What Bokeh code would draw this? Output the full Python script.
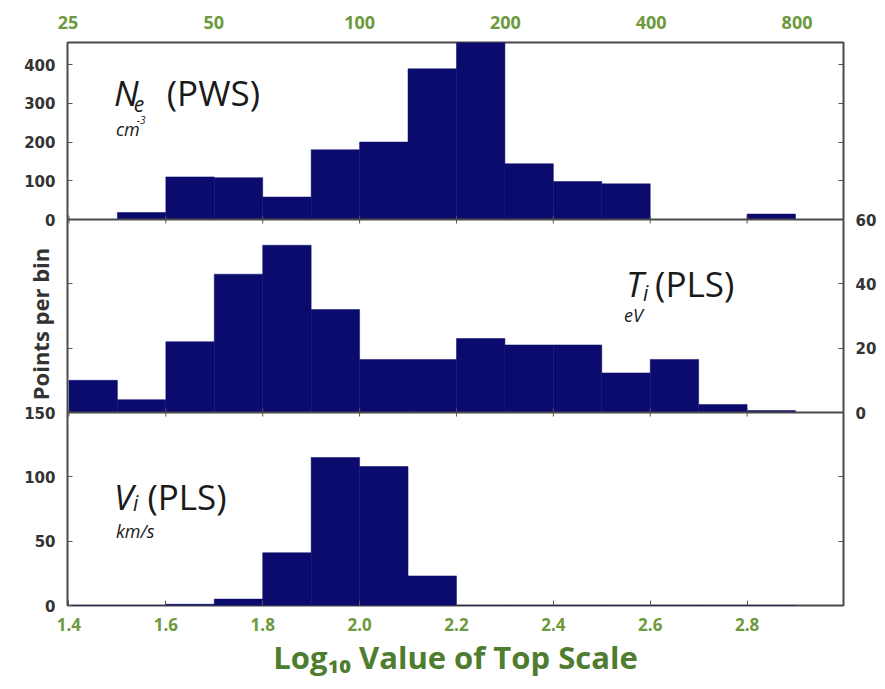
import numpy as np
from bokeh.plotting import figure
from bokeh.models import (Range1d, LinearAxis, FixedTicker, CustomJSTickFormatter,
                          Span, Label)
from bokeh.embed import file_html
from bokeh.resources import INLINE

# ---------------- data ----------------
bin_left = [1.4, 1.5, 1.6, 1.7, 1.8, 1.9, 2.0, 2.1, 2.2, 2.3, 2.4, 2.5, 2.6, 2.7, 2.8]
bin_width = 0.1
ne_counts = [0, 18, 110, 108, 58, 180, 200, 389, 460, 144, 98, 92, 0, 0, 14]
ti_counts = [10, 4, 22, 43, 52, 32, 16.5, 16.5, 23, 21, 21, 12.3, 16.5, 2.5, 0.6]
vi_counts = [0, 0, 1, 5, 41, 115, 108, 23, 0, 0, 0, 0, 0, 0, 0]

ne_ticks = [0, 100, 200, 300, 400]
ti_ticks = [0, 20, 40, 60]
vi_ticks = [0, 50, 100, 150]
top_scale_values = [25, 50, 100, 200, 400, 800]
bottom_ticks = [1.4, 1.6, 1.8, 2.0, 2.2, 2.4, 2.6, 2.8]
bottom_labels = ["1.4", "1.6", "1.8", "2.0", "2.2", "2.4", "2.6", "2.8"]
x_title = "Log\u2081\u2080 Value of Top Scale"
y_title = "Points per bin"

# ---------------- layout (pixel-based panel stacking) ----------------
FRAME_H = 563
panels = {  # base (px from bottom of frame), height (px), value at panel top
    "vi": (0, 193, 150),
    "ti": (193, 193, 60),
    "ne": (386, 177, 457),
}

def u(name, v):
    b, h, t = panels[name]
    return b + v * h / t

NAVY = "#0b0b6e"
FRAME_COL = "#4a4a4a"
TICK_COL = "#333333"
GREEN = "#6c9a3c"
GREEN_DARK = "#4e7d30"

p = figure(width=885, height=689, x_range=Range1d(1.397, 2.999), y_range=Range1d(0, FRAME_H),
           output_backend="svg", toolbar_location=None,
           min_border_left=67, min_border_right=42, min_border_top=42, min_border_bottom=84)
p.grid.visible = False
p.outline_line_color = FRAME_COL
p.outline_line_width = 2
p.background_fill_color = "white"
p.border_fill_color = "white"

for name, (b, h, t) in panels.items():
    k = t / h
    p.extra_y_ranges[name] = Range1d(start=-b * k, end=(FRAME_H - b) * k)


def fmt(pos, labels):
    return CustomJSTickFormatter(args=dict(pos=list(pos), labels=list(labels)), code="""
for (let i = 0; i < pos.length; i++) {
    if (Math.abs(pos[i] - tick) < 1e-6) { return labels[i]; }
}
return "";
""")


def style_axis(ax, tick_in=5, color=TICK_COL, font="DejaVu Sans", size="15px", fstyle="bold", standoff=12):
    ax.axis_line_color = None
    ax.major_tick_in = tick_in
    ax.major_tick_out = 0
    ax.minor_tick_in = 0
    ax.minor_tick_out = 0
    ax.major_tick_line_color = "#555555"
    ax.major_label_text_color = color
    ax.major_label_text_font = font
    ax.major_label_text_font_size = size
    ax.major_label_text_font_style = fstyle
    ax.major_label_standoff = standoff


# left axis: Ne labels (top), Ti ticks only (middle), Vi labels (bottom)
left_pos, left_lab = [], []
for v in ne_ticks:
    left_pos.append(u("ne", v)); left_lab.append(str(v))
for v in ti_ticks[1:-1]:
    left_pos.append(u("ti", v)); left_lab.append("")
for v in vi_ticks:
    left_pos.append(u("vi", v)); left_lab.append(str(v))
left_ax = p.yaxis[0]
left_ax.ticker = FixedTicker(ticks=left_pos)
left_ax.formatter = fmt(left_pos, left_lab)
style_axis(left_ax)
left_ax.axis_label = y_title
left_ax.axis_label_text_font = "Open Sans"
left_ax.axis_label_text_font_size = "22px"
left_ax.axis_label_text_font_style = "bold"
left_ax.axis_label_text_color = "#333333"
left_ax.axis_label_standoff = -34

# right axis: Ti labels (middle), ticks only for others
right_pos, right_lab = [], []
for v in ne_ticks[1:]:
    right_pos.append(u("ne", v)); right_lab.append("")
for v in ti_ticks:
    right_pos.append(u("ti", v)); right_lab.append(str(v))
for v in vi_ticks[1:-1]:
    right_pos.append(u("vi", v)); right_lab.append("")
right_ax = LinearAxis(ticker=FixedTicker(ticks=right_pos), formatter=fmt(right_pos, right_lab))
style_axis(right_ax)
p.add_layout(right_ax, "right")

# bottom axis
bot_ax = p.xaxis[0]
bot_ax.ticker = FixedTicker(ticks=bottom_ticks)
bot_ax.formatter = fmt(bottom_ticks, bottom_labels)
style_axis(bot_ax, color=GREEN, font="Open Sans", size="17px", standoff=12)
bot_ax.axis_label = x_title
bot_ax.axis_label_text_font = "Open Sans"
bot_ax.axis_label_text_font_size = "31px"
bot_ax.axis_label_text_font_style = "bold"
bot_ax.axis_label_text_color = GREEN_DARK
bot_ax.axis_label_standoff = 2

# top axis (log scale values)
top_pos = [float(np.log10(v)) for v in top_scale_values]
top_ax = LinearAxis(ticker=FixedTicker(ticks=top_pos),
                    formatter=fmt(top_pos, [str(v) for v in top_scale_values]))
style_axis(top_ax, tick_in=0, color=GREEN, font="Open Sans", size="18px", standoff=14)
p.add_layout(top_ax, "above")

# histograms
bin_right = [l + bin_width for l in bin_left]
for name, counts in (("ne", ne_counts), ("ti", ti_counts), ("vi", vi_counts)):
    p.quad(left=bin_left, right=bin_right, bottom=0, top=counts, y_range_name=name,
           fill_color=NAVY, line_color=NAVY, line_width=0.5)

# panel separators with small x-tick marks
TICK_HALF = 4  # px-like units of the default range
for name in ("ne", "ti"):
    p.add_layout(Span(location=0, dimension="width", y_range_name=name,
                      line_color=FRAME_COL, line_width=2))
    y0 = u(name, 0)
    p.segment(x0=bottom_ticks, x1=bottom_ticks, y0=[y0 - TICK_HALF] * len(bottom_ticks),
              y1=[y0 + TICK_HALF] * len(bottom_ticks), line_color="#555555", line_width=1)

# ---------------- texts ----------------
TXT = "#1a1a1a"
FONT = "Open Sans"

def lab(x, y, text, size, style="normal", color=TXT, **kw):
    p.add_layout(Label(x=x, y=y, text=text, text_font=FONT, text_font_size=size,
                       text_font_style=style, text_color=color, text_baseline="alphabetic", **kw))

# Ne (PWS)
lab(1.493, 513, "N", "35px", "italic")
lab(1.534, 502, "e", "21px", "italic")
lab(1.602, 513, "(PWS)", "35px")
lab(1.497, 477, "cm", "18px", "italic")
lab(1.540, 486, "-3", "10px", "italic")

# Ti (PLS)
lab(2.550, 322, "T", "35px", "italic")
lab(2.585, 313, "i", "21px", "italic")
lab(2.610, 322, "(PLS)", "35px")
lab(2.546, 291, "eV", "18px", "italic")

# Vi (PLS)
lab(1.493, 109, "V", "35px", "italic")
lab(1.532, 103, "i", "21px", "italic")
lab(1.562, 109, "(PLS)", "35px")
lab(1.497, 75, "km/s", "18px", "italic")

open("out.html", "w").write(file_html(p, INLINE))
